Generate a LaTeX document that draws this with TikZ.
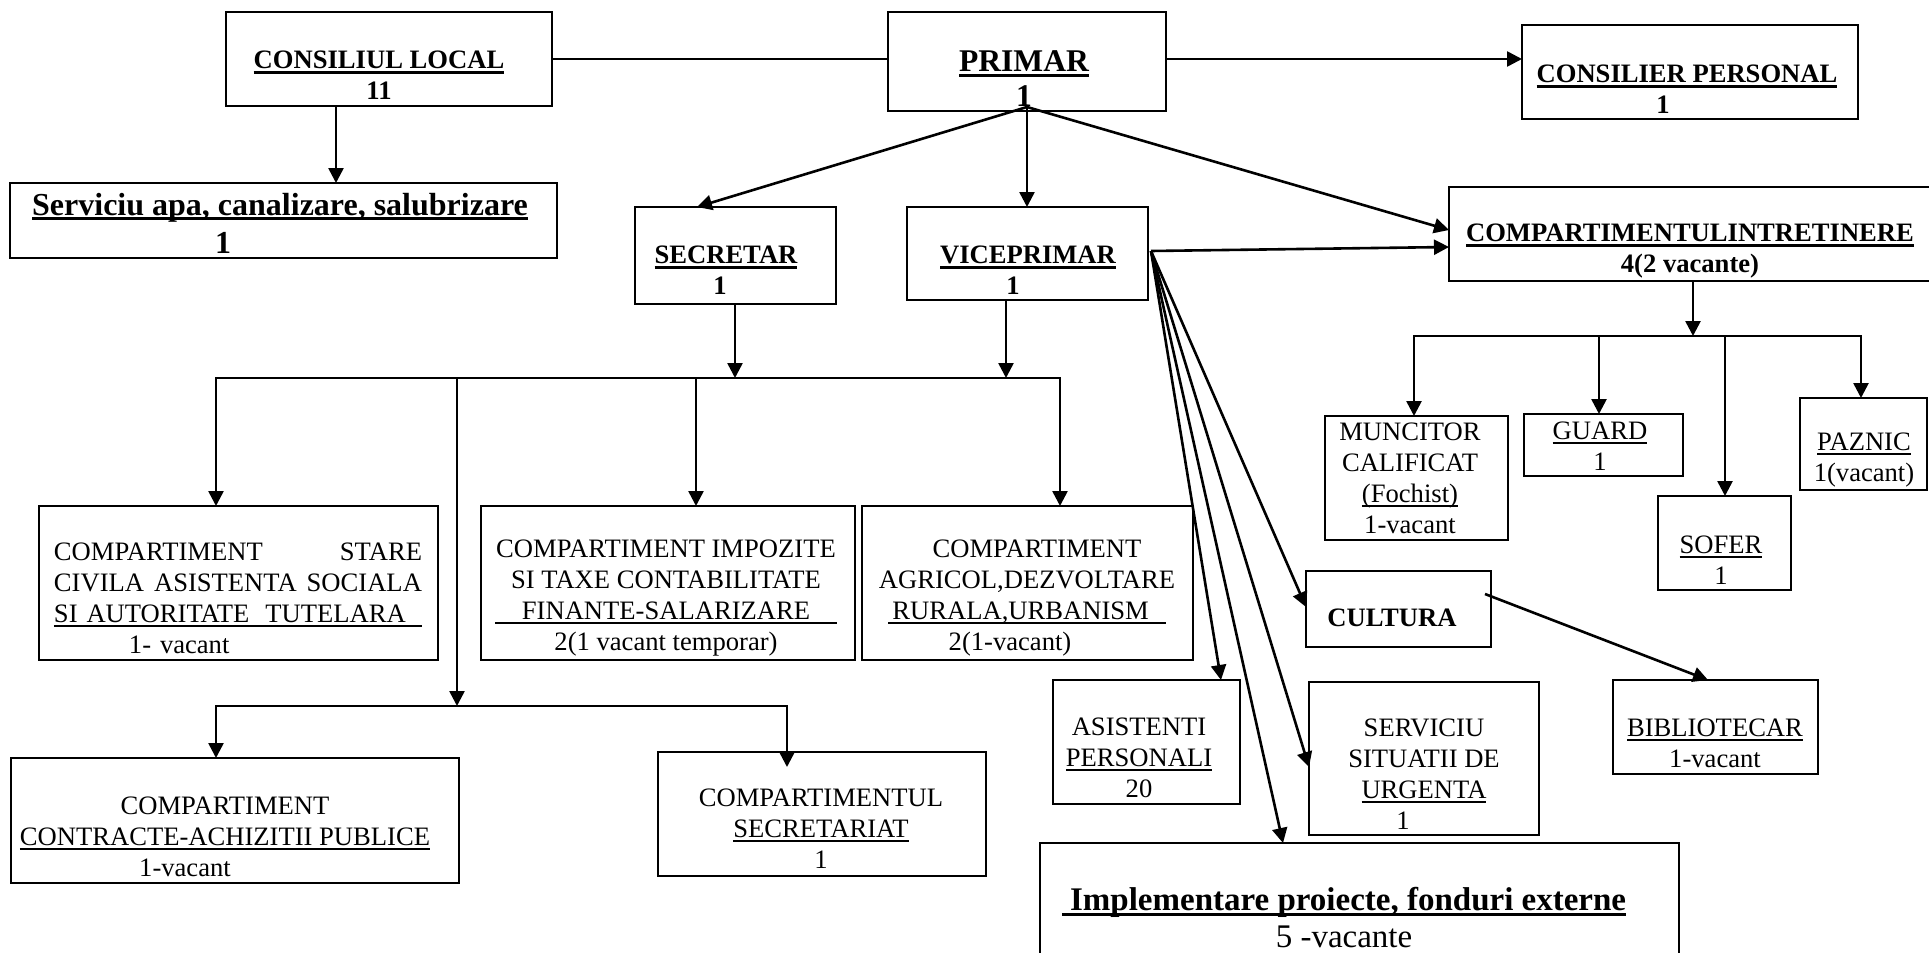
\documentclass[tikz,border=0pt]{standalone}
\usepackage{fontspec}
\setmainfont{Liberation Serif}
\usetikzlibrary{arrows.meta,calc}
\newcommand\ulr[1]{\leavevmode\setbox0=\hbox{#1}\rlap{\rule[-2.2pt]{\wd0}{0.9pt}}\box0}
\newcommand\ulb[1]{\leavevmode\setbox0=\hbox{#1}\rlap{\rule[-2.6pt]{\wd0}{1.5pt}}\box0}
\newcommand\bx[5]{\node[box,minimum width={(#4-#2)*0.5pt},minimum height={(#5-#3)*0.5pt}] (#1) at ({(#2+#4)/2},{(#3+#5)/2}) {};}
\begin{document}
\begin{tikzpicture}[x=0.5pt,y=-0.5pt,
  box/.style={draw,line width=1.3pt,inner sep=0pt,outer sep=0pt},
  ln/.style={line width=1.3pt,line cap=rect},
  arr/.style={line width=1.3pt,-{Triangle[length=7.5pt,width=7.5pt]}},
  txt/.style={inner sep=0pt,align=center,font=\fontsize{13.3}{15.5}\selectfont},
  bt/.style={txt,font=\bfseries\fontsize{13.3}{15.5}\selectfont}]
\useasboundingbox (0,0) rectangle (1929,953);
\fill[white] (0,0) rectangle (1929,953);
\clip (0,0) rectangle (1929,953);
% boxes
\bx{cl}{226}{12}{552}{106}
\bx{pr}{888}{12}{1166}{111}
\bx{cp}{1522}{25}{1858}{119}
\bx{sa}{10}{183}{557}{258}
\bx{se}{635}{207}{836}{304}
\bx{vp}{907}{207}{1148}{300}
\bx{ci}{1449}{187}{1950}{281}
\bx{st}{39}{506}{438}{660}
\bx{im}{481}{506}{855}{660}
\bx{ag}{862}{506}{1193}{660}
\bx{co}{11}{758}{459}{883}
\bx{sr}{658}{752}{986}{876}
\bx{mc}{1325}{416}{1508}{540}
\bx{gd}{1524}{414}{1683}{476}
\bx{so}{1658}{496}{1791}{590}
\bx{pz}{1800}{398}{1927}{490}
\bx{cu}{1306}{571}{1491}{647}
\bx{bi}{1613}{680}{1818}{774}
\bx{as}{1053}{680}{1240}{804}
\bx{ss}{1309}{682}{1539}{835}
\bx{ip}{1040}{843}{1679}{980}
% texts
\node[bt] (tcl) at (379,75) {\ulb{CONSILIUL LOCAL}\\11};
\node[bt,font=\bfseries\fontsize{15.8}{17.5}\selectfont] (tpr) at (1024,79) {\ulb{PRIMAR}\\1};
\node[bt] (tcp) at (1687,89) {\ulb{CONSILIER PERSONAL}\\1\hspace*{24pt}};
\node[bt] (tci) at (1690,251) {\ulb{COMPARTIMENTULINTRETINERE}\\4(2 vacante)};
\node[bt] (tse) at (726,270) {\ulb{SECRETAR}\\1\hspace*{6pt}};
\node[bt] (tvp) at (1028,270) {\ulb{VICEPRIMAR}\\1\hspace*{15pt}};
\node[bt,font=\bfseries\fontsize{16}{19}\selectfont,align=left] (tsa) at (280,223) {\ulb{Serviciu apa, canalizare, salubrizare}\\\hspace*{91.5pt}1};
\node[txt,text width=184pt,align=left] (tst) at (238,598) {\makebox[\linewidth][s]{COMPARTIMENT\hfill STARE}\\\makebox[\linewidth][s]{CIVILA\hfill ASISTENTA\hfill SOCIALA}\\\ulr{\makebox[\linewidth][l]{SI AUTORITATE\hspace{8pt}TUTELARA}}\\\hspace*{37.5pt}1- vacant};
\node[txt] (tim) at (666,598) {COMPARTIMENT IMPOZITE\\SI TAXE CONTABILITATE\\\ulr{\makebox[171pt]{FINANTE-SALARIZARE}}\\2(1 vacant temporar)};
\node[txt] (tag) at (1027,598) {\hspace*{10pt}COMPARTIMENT\\AGRICOL,DEZVOLTARE\\\ulr{\makebox[139pt][l]{\,RURALA,URBANISM}}\hspace*{12pt}\\2(1-vacant)\hspace*{17pt}};
\node[txt] (tmc) at (1410,478) {MUNCITOR\\CALIFICAT\\\ulr{(Fochist)}\\1-vacant};
\node[txt] (tgd) at (1600,446) {\ulr{GUARD}\\1};
\node[txt] (tso) at (1721,560) {\ulr{SOFER}\\1};
\node[txt] (tpz) at (1864,460) {\ulr{PAZNIC}\\1(vacant)};
\node[bt] (tcu) at (1392,618) {CULTURA};
\node[txt] (tbi) at (1715,743) {\ulr{BIBLIOTECAR}\\1-vacant};
\node[txt] (tas) at (1139,758) {ASISTENTI\\\ulr{PERSONALI}\\20};
\node[txt] (tss) at (1424,774) {SERVICIU\\SITUATII DE\\\ulr{URGENTA}\\1\hspace*{21pt}};
\node[bt,font=\bfseries\fontsize{16.5}{18.5}\selectfont] (tip) at (1344,918) {\ulb{\ Implementare proiecte, fonduri externe}\\{\mdseries 5 -vacante}};
\node[txt] (tco) at (225,837) {COMPARTIMENT\\\ulr{CONTRACTE-ACHIZITII PUBLICE}\\1-vacant\hspace*{40pt}};
\node[txt] (tsr) at (821,829) {COMPARTIMENTUL\\\ulr{SECRETARIAT}\\1};
% helper coordinates
\coordinate (pf) at (1027,107);
\coordinate (vf) at (1151,251);
\coordinate (k1) at (336,0);
\coordinate (k2) at (697,0);
\coordinate (k3) at (0,230);
\coordinate (k4) at (0,247);
\coordinate (k5) at (0,607);
\coordinate (k6) at (1221,0);
\coordinate (k7) at (0,767);
\coordinate (k8) at (1283,0);
\coordinate (b1) at (0,378);
\coordinate (b2) at (0,706);
\coordinate (b3) at (0,336);
\coordinate (x1) at (735,0);
\coordinate (x2) at (1006,0);
\coordinate (x3) at (216,0);
\coordinate (x4) at (696,0);
\coordinate (x5) at (457,0);
\coordinate (x6) at (1060,0);
\coordinate (x7) at (787,0);
\coordinate (y1) at (1693,0);
\coordinate (y2) at (1414,0);
\coordinate (y3) at (1599,0);
\coordinate (y4) at (1725,0);
\coordinate (y5) at (1861,0);
\coordinate (c1) at (1485,594);
\coordinate (c2) at (1708,0);
% connectors
\draw[ln] (cl.east) -- (cl.east -| pr.west);
\draw[arr] (pr.east |- cl.east) -- (cl.east -| cp.west);
\draw[arr] (cl.south -| k1) -- (sa.north -| k1);
\draw[arr] (pf) -- (se.north -| k2);
\draw[arr] (pf) -- (pf |- vp.north);
\draw[arr] (pf) -- (ci.west |- k3);
\draw[arr] (vf) -- (ci.west |- k4);
\draw[arr] (vf) -- (cu.west |- k5);
\draw[arr] (vf) -- (as.north -| k6);
\draw[arr] (vf) -- (ss.west |- k7);
\draw[arr] (vf) -- (ip.north -| k8);
\draw[arr] (se.south -| x1) -- (b1 -| x1);
\draw[arr] (vp.south -| x2) -- (b1 -| x2);
\draw[ln] (b1 -| x3) -- (b1 -| x6);
\draw[arr] (b1 -| x3) -- (st.north -| x3);
\draw[arr] (b1 -| x4) -- (im.north -| x4);
\draw[arr] (b1 -| x6) -- (ag.north -| x6);
\draw[arr] (b1 -| x5) -- (b2 -| x5);
\draw[ln] (b2 -| x3) -- (b2 -| x7);
\draw[arr] (b2 -| x3) -- (co.north -| x3);
\draw[arr] (b2 -| x7) -- ($(sr.north -| x7)+(0,15)$);
\draw[arr] (ci.south -| y1) -- (b3 -| y1);
\draw[ln] (b3 -| y2) -- (b3 -| y5);
\draw[arr] (b3 -| y2) -- (mc.north -| y2);
\draw[arr] (b3 -| y3) -- (gd.north -| y3);
\draw[arr] (b3 -| y4) -- (so.north -| y4);
\draw[arr] (b3 -| y5) -- (pz.north -| y5);
\draw[arr] (c1) -- (bi.north -| c2);
\end{tikzpicture}
\end{document}
